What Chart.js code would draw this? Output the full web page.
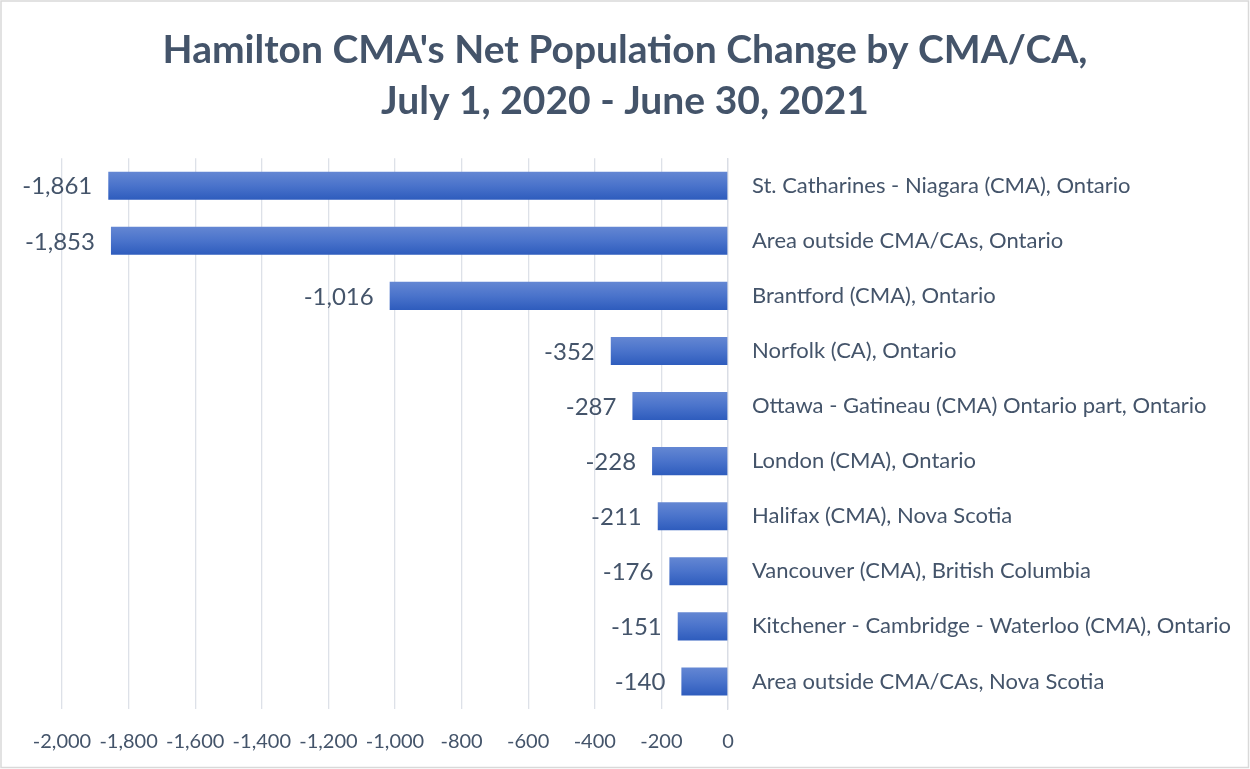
<!DOCTYPE html>
<html>
<head>
<meta charset="utf-8">
<title>Hamilton CMA's Net Population Change by CMA/CA</title>
<script src="https://cdn.jsdelivr.net/npm/chart.js@4.4.1/dist/chart.umd.min.js"></script>
<style>
  html, body { margin: 0; padding: 0; background: #ffffff; }
  #wrap { width: 1250px; height: 769px; position: relative; }
</style>
</head>
<body>
<div id="wrap"><canvas id="chart" width="1250" height="769"></canvas></div>
<script>
// Net migration between Hamilton CMA and other CMAs/CAs, 2020-2021
const titleLines = ["Hamilton CMA's Net Population Change by CMA/CA,", "July 1, 2020 - June 30, 2021"];
const categories = [
  "St. Catharines - Niagara (CMA), Ontario",
  "Area outside CMA/CAs, Ontario",
  "Brantford (CMA), Ontario",
  "Norfolk (CA), Ontario",
  "Ottawa - Gatineau (CMA) Ontario part, Ontario",
  "London (CMA), Ontario",
  "Halifax (CMA), Nova Scotia",
  "Vancouver (CMA), British Columbia",
  "Kitchener - Cambridge - Waterloo (CMA), Ontario",
  "Area outside CMA/CAs, Nova Scotia"
];
const netChange = [-1861, -1853, -1016, -352, -287, -228, -211, -176, -151, -140];
const axisMin = -2000;
const axisMax = 0;
const axisStep = 200;

const TEXT = '#44546a';
const FONT = 'Lato, "Open Sans", sans-serif';
const BAR_PCT = 0.51;

const fmt = v => v.toLocaleString('en-US');

// white page with a thin frame
const frame = {
  id: 'frame',
  beforeDraw(chart) {
    const c = chart.ctx;
    c.save();
    c.fillStyle = '#ffffff';
    c.fillRect(0, 0, chart.width, chart.height);
    c.strokeStyle = '#d9d9d9';
    c.lineWidth = 1.5;
    c.strokeRect(1, 1, chart.width - 2.5, chart.height - 2.5);
    c.restore();
  }
};

// value labels placed just past the end of each bar
const valueLabels = {
  id: 'valueLabels',
  afterDatasetsDraw(chart) {
    const c = chart.ctx;
    const meta = chart.getDatasetMeta(0);
    c.save();
    c.font = '24px ' + FONT;
    c.fillStyle = TEXT;
    c.textAlign = 'right';
    c.textBaseline = 'middle';
    meta.data.forEach((bar, i) => {
      c.fillText(fmt(netChange[i]), bar.x - 16, bar.y + 1);
    });
    c.restore();
  }
};

function barGradient(ctx) {
  const chart = ctx.chart;
  const y = chart.scales && chart.scales.y;
  if (!y || ctx.type !== 'data' || !y.height) return '#4472c4';
  const center = y.getPixelForValue(ctx.dataIndex);
  const half = (y.height / categories.length) * BAR_PCT / 2;
  const g = chart.ctx.createLinearGradient(0, center - half, 0, center + half);
  g.addColorStop(0, '#6487d3');
  g.addColorStop(0.5, '#4a73cb');
  g.addColorStop(1, '#2e5cbd');
  return g;
}

new Chart(document.getElementById('chart'), {
  type: 'bar',
  data: {
    labels: categories,
    datasets: [{
      data: netChange,
      backgroundColor: barGradient,
      borderWidth: 0,
      categoryPercentage: 1,
      barPercentage: BAR_PCT
    }]
  },
  options: {
    indexAxis: 'y',
    responsive: false,
    animation: false,
    layout: { padding: { top: 4, left: 0, right: 0, bottom: 15 } },
    plugins: {
      legend: { display: false },
      tooltip: { enabled: false },
      title: {
        display: true,
        text: titleLines,
        color: TEXT,
        font: { family: FONT, size: 39, weight: 'bold', lineHeight: 1.31 },
        padding: { top: 21, bottom: 31 }
      }
    },
    scales: {
      x: {
        min: axisMin,
        max: axisMax,
        ticks: {
          stepSize: axisStep,
          color: TEXT,
          font: { family: FONT, size: 20, lineHeight: 1.2 },
          padding: 21,
          maxRotation: 0,
          autoSkip: false,
          callback: v => fmt(v)
        },
        grid: { color: '#dde1e8', lineWidth: 1.3, drawTicks: false, tickLength: 0 },
        border: { display: false },
        afterFit(scale) {
          scale.height = 45;
          // room on the left for the end labels of the longest bars
          scale.paddingLeft = 62;
        }
      },
      y: {
        position: 'right',
        ticks: {
          color: TEXT,
          font: { family: FONT, size: 22 },
          padding: 24,
          autoSkip: false
        },
        grid: { display: false, drawTicks: false },
        border: { display: true, color: '#d9dde5', width: 1.3 },
        afterFit(scale) { scale.width = 522; }
      }
    }
  },
  plugins: [frame, valueLabels]
});
</script>
</body>
</html>
